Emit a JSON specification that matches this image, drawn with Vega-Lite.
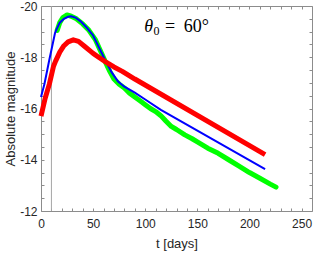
{
  "$schema": "https://vega.github.io/schema/vega-lite/v6.json",
  "width": 271,
  "height": 205,
  "autosize": "none",
  "padding": {"left": 41, "top": 6, "right": 20, "bottom": 50},
  "config": {
    "view": {"stroke": null},
    "axis": {
      "grid": false,
      "domainColor": "#8c8c8c",
      "tickColor": "#8c8c8c",
      "tickSize": -3,
      "labelFont": "Liberation Sans",
      "labelFontSize": 12,
      "labelColor": "#262626",
      "titleFont": "Liberation Sans",
      "titleFontSize": 13,
      "titleFontWeight": "normal",
      "titleColor": "#262626"
    }
  },
  "datasets": {
    "one": [{"k": 1}]
  },
  "data": {
    "values": [
      {"s": "r", "t": 0, "m": -15.7},
      {"s": "r", "t": 4, "m": -16.4},
      {"s": "r", "t": 8, "m": -16.95},
      {"s": "r", "t": 12, "m": -17.65},
      {"s": "r", "t": 14, "m": -17.85},
      {"s": "r", "t": 18, "m": -18.2},
      {"s": "r", "t": 22, "m": -18.45},
      {"s": "r", "t": 26, "m": -18.6},
      {"s": "r", "t": 31, "m": -18.68},
      {"s": "r", "t": 36, "m": -18.62},
      {"s": "r", "t": 42, "m": -18.42},
      {"s": "r", "t": 50, "m": -18.15},
      {"s": "r", "t": 56, "m": -17.98},
      {"s": "r", "t": 62, "m": -17.82},
      {"s": "r", "t": 70, "m": -17.62},
      {"s": "r", "t": 78, "m": -17.45},
      {"s": "r", "t": 90, "m": -17.15},
      {"s": "r", "t": 215, "m": -14.2},
      {"s": "b", "t": 0, "m": -16.45},
      {"s": "b", "t": 3.3, "m": -16.96},
      {"s": "b", "t": 8, "m": -17.9},
      {"s": "b", "t": 13.5, "m": -18.95},
      {"s": "b", "t": 15, "m": -19.1},
      {"s": "b", "t": 18, "m": -19.35},
      {"s": "b", "t": 22, "m": -19.5},
      {"s": "b", "t": 26, "m": -19.58},
      {"s": "b", "t": 29, "m": -19.6},
      {"s": "b", "t": 33, "m": -19.55},
      {"s": "b", "t": 38, "m": -19.4},
      {"s": "b", "t": 44, "m": -19.15},
      {"s": "b", "t": 50, "m": -18.85},
      {"s": "b", "t": 56, "m": -18.35},
      {"s": "b", "t": 62, "m": -17.85},
      {"s": "b", "t": 68, "m": -17.4},
      {"s": "b", "t": 74, "m": -17.05},
      {"s": "b", "t": 80, "m": -16.85},
      {"s": "b", "t": 90, "m": -16.62},
      {"s": "b", "t": 100, "m": -16.35},
      {"s": "b", "t": 115, "m": -15.95},
      {"s": "b", "t": 215, "m": -13.63},
      {"s": "g", "t": 15.5, "m": -19.05},
      {"s": "g", "t": 18, "m": -19.35},
      {"s": "g", "t": 21, "m": -19.55},
      {"s": "g", "t": 25, "m": -19.65},
      {"s": "g", "t": 29, "m": -19.6},
      {"s": "g", "t": 34, "m": -19.5},
      {"s": "g", "t": 40, "m": -19.3},
      {"s": "g", "t": 46, "m": -19.05},
      {"s": "g", "t": 52, "m": -18.7},
      {"s": "g", "t": 57, "m": -18.25},
      {"s": "g", "t": 62, "m": -17.8},
      {"s": "g", "t": 66, "m": -17.45},
      {"s": "g", "t": 70, "m": -17.15},
      {"s": "g", "t": 75, "m": -16.95},
      {"s": "g", "t": 80, "m": -16.8},
      {"s": "g", "t": 85, "m": -16.6},
      {"s": "g", "t": 90, "m": -16.45},
      {"s": "g", "t": 95, "m": -16.3},
      {"s": "g", "t": 100, "m": -16.15},
      {"s": "g", "t": 105, "m": -16.0},
      {"s": "g", "t": 110, "m": -15.88},
      {"s": "g", "t": 115, "m": -15.72},
      {"s": "g", "t": 120, "m": -15.5},
      {"s": "g", "t": 125, "m": -15.3},
      {"s": "g", "t": 130, "m": -15.18},
      {"s": "g", "t": 138, "m": -14.97},
      {"s": "g", "t": 145, "m": -14.82},
      {"s": "g", "t": 150, "m": -14.7},
      {"s": "g", "t": 160, "m": -14.45},
      {"s": "g", "t": 170, "m": -14.25},
      {"s": "g", "t": 180, "m": -14.0},
      {"s": "g", "t": 190, "m": -13.75},
      {"s": "g", "t": 200, "m": -13.5},
      {"s": "g", "t": 210, "m": -13.28},
      {"s": "g", "t": 220, "m": -13.05},
      {"s": "g", "t": 225.5, "m": -12.93}
    ]
  },
  "resolve": {"axis": {"x": "independent", "y": "independent"}},
  "layer": [
    {
      "data": {"name": "one"},
      "mark": {"type": "rule", "color": "#a6a6a6", "strokeWidth": 1},
      "encoding": {
        "x": {"datum": 10, "type": "quantitative", "scale": {"domain": [0, 250]}, "axis": null}
      }
    },
    {
      "transform": [{"filter": "datum.s == 'g'"}],
      "mark": {"type": "line", "color": "#00ff00", "strokeWidth": 5, "strokeCap": "round", "strokeJoin": "round"},
      "encoding": {
        "x": {"field": "t", "type": "quantitative", "scale": {"domain": [0, 250]},
          "axis": {"orient": "bottom", "title": "t [days]", "values": [0,10,20,30,40,50,60,70,80,90,100,110,120,130,140,150,160,170,180,190,200,210,220,230,240,250],
            "labelExpr": "datum.value % 50 == 0 ? toString(datum.value) : ''", "labelPadding": 10, "labelFlush": false, "labelOverlap": false,
            "titleY": 32, "titleBaseline": "middle"}},
        "y": {"field": "m", "type": "quantitative", "scale": {"domain": [-20, -12], "reverse": true},
          "axis": {"orient": "left", "title": "Absolute magnitude", "values": [-20,-19.5,-19,-18.5,-18,-17.5,-17,-16.5,-16,-15.5,-15,-14.5,-14,-13.5,-13,-12.5,-12],
            "labelExpr": "datum.value % 2 == 0 ? toString(datum.value) : ''", "labelPadding": 7, "labelFlush": false, "labelOverlap": false,
            "titleX": -31, "titleBaseline": "middle"}}
      }
    },
    {
      "transform": [{"filter": "datum.s == 'b'"}],
      "mark": {"type": "line", "color": "#0000ff", "strokeWidth": 2},
      "encoding": {
        "x": {"field": "t", "type": "quantitative", "scale": {"domain": [0, 250]},
          "axis": {"orient": "top", "title": null, "labels": false, "values": [0,10,20,30,40,50,60,70,80,90,100,110,120,130,140,150,160,170,180,190,200,210,220,230,240,250]}},
        "y": {"field": "m", "type": "quantitative", "scale": {"domain": [-20, -12], "reverse": true},
          "axis": {"orient": "right", "title": null, "labels": false, "values": [-20,-19.5,-19,-18.5,-18,-17.5,-17,-16.5,-16,-15.5,-15,-14.5,-14,-13.5,-13,-12.5,-12]}}
      }
    },
    {
      "transform": [{"filter": "datum.s == 'r'"}],
      "mark": {"type": "line", "color": "#ff0000", "strokeWidth": 5, "strokeJoin": "round"},
      "encoding": {
        "x": {"field": "t", "type": "quantitative", "scale": {"domain": [0, 250]}, "axis": null},
        "y": {"field": "m", "type": "quantitative", "scale": {"domain": [-20, -12], "reverse": true}, "axis": null}
      }
    },
    {
      "data": {"name": "one"},
      "mark": {"type": "text", "text": "θ", "font": "Liberation Serif", "fontStyle": "italic", "fontSize": 18, "align": "left", "baseline": "alphabetic", "color": "#000000"},
      "encoding": {
        "x": {"datum": 99, "type": "quantitative", "axis": null},
        "y": {"datum": -18.99, "type": "quantitative", "axis": null}
      }
    },
    {
      "data": {"name": "one"},
      "mark": {"type": "text", "text": "0", "font": "Liberation Serif", "fontSize": 12, "align": "left", "baseline": "alphabetic", "color": "#000000"},
      "encoding": {
        "x": {"datum": 108, "type": "quantitative", "axis": null},
        "y": {"datum": -18.87, "type": "quantitative", "axis": null}
      }
    },
    {
      "data": {"name": "one"},
      "mark": {"type": "text", "text": "=", "font": "Liberation Serif", "fontSize": 18, "align": "left", "baseline": "alphabetic", "color": "#000000"},
      "encoding": {
        "x": {"datum": 119, "type": "quantitative", "axis": null},
        "y": {"datum": -18.99, "type": "quantitative", "axis": null}
      }
    },
    {
      "data": {"name": "one"},
      "mark": {"type": "text", "text": "60°", "font": "Liberation Serif", "fontSize": 18, "align": "left", "baseline": "alphabetic", "color": "#000000"},
      "encoding": {
        "x": {"datum": 137, "type": "quantitative", "axis": null},
        "y": {"datum": -18.99, "type": "quantitative", "axis": null}
      }
    }
  ]
}
